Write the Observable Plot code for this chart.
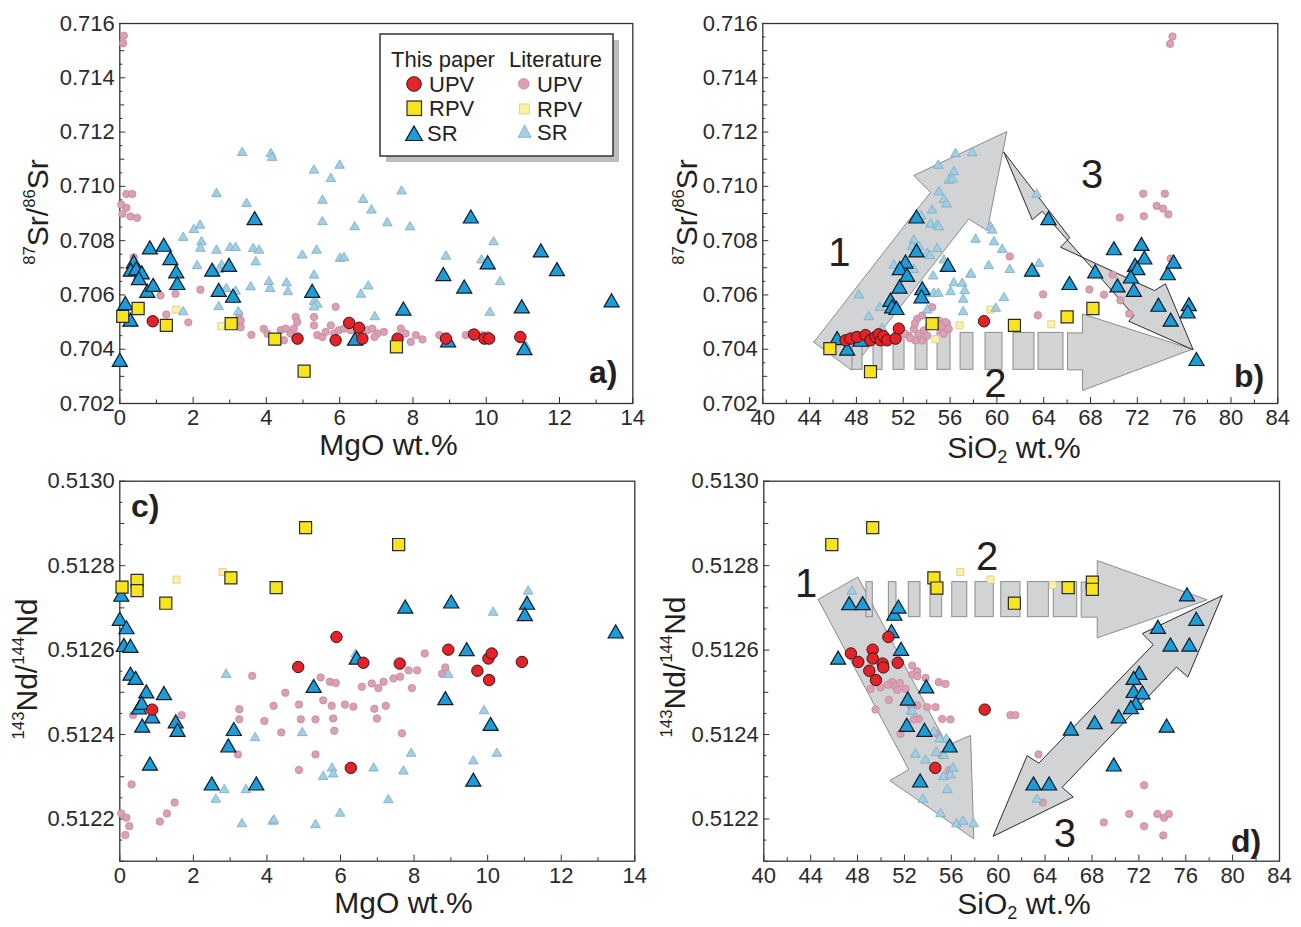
<!DOCTYPE html>
<html>
<head>
<meta charset="utf-8">
<script src="https://cdn.jsdelivr.net/npm/d3@7"></script>
<script src="https://cdn.jsdelivr.net/npm/@observablehq/plot@0.6"></script>
<style>
html,body{margin:0;padding:0;background:#fff;}
#fig{position:relative;width:1301px;height:927px;overflow:hidden;font-family:"Liberation Sans",Arial,Helvetica,sans-serif;color:#231f20;}
.t{position:absolute;white-space:nowrap;line-height:1;}
.sup{font-size:0.56em;position:relative;top:-0.78em;}
.sub{font-size:0.6em;position:relative;top:0.28em;}
</style>
</head>
<body>
<div id="fig"></div>
<script>
// ---------- tick labels ----------
const MGO_TICKS = [0, 2, 4, 6, 8, 10, 12, 14];
const MGO_MINOR = [1, 3, 5, 7, 9, 11, 13];
const SIO2_TICKS = [40, 44, 48, 52, 56, 60, 64, 68, 72, 76, 80, 84];
const SIO2_MINOR = [42, 46, 50, 54, 58, 62, 66, 70, 74, 78, 82];
const SR_TICKS = [0.702, 0.704, 0.706, 0.708, 0.710, 0.712, 0.714, 0.716];
const ND_TICKS = [0.5122, 0.5124, 0.5126, 0.5128, 0.5130];

// ---------- panel a) 87Sr/86Sr vs MgO ----------
const aUPV = [[0.90,0.70503],[4.85,0.70439],[5.89,0.70433],[6.26,0.70497],[6.53,0.70479],[6.62,0.70439],[7.58,0.70439],[8.90,0.70439],[9.67,0.70454],[9.95,0.70439],[10.08,0.70439],[10.93,0.70445]];
const aRPV = [[0.08,0.70521],[0.50,0.70550],[1.27,0.70488],[3.04,0.70494],[4.23,0.70437],[5.03,0.70319],[7.55,0.70409]];
const aSR = [[0,0.70353],[0.15,0.70562],[0.29,0.70501],[0.38,0.70715],[0.30,0.70685],[0.45,0.70690],[0.60,0.70675],[0.52,0.70654],[0.75,0.70607],[0.91,0.70629],[0.82,0.70767],[1.20,0.70777],[1.38,0.70728],[1.54,0.70679],[1.57,0.70636],[2.52,0.70685],[2.70,0.70611],[2.98,0.70703],[3.09,0.70589],[3.68,0.70875],[5.25,0.70607],[6.42,0.70431],[7.74,0.70542],[8.83,0.70669],[8.96,0.70425],[9.40,0.70623],[9.58,0.70881],[10.04,0.70712],[10.97,0.70550],[11.04,0.70396],[11.49,0.70756],[11.93,0.70687],[13.42,0.70572]];
const aLitUPV = [[0.11,0.71555],[0.09,0.71527],[0.18,0.70972],[0.34,0.70972],[0.04,0.70933],[0.18,0.70921],[0.07,0.70899],[0.29,0.70889],[0.47,0.70884],[0.38,0.70739],[1.11,0.70598],[1.52,0.70604],[2.20,0.70619],[1.27,0.70528],[1.87,0.70499],[3.25,0.70530],[3.30,0.70506],[3.30,0.70481],[3.59,0.70453],[3.93,0.70475],[4.03,0.70457],[4.39,0.70470],[4.53,0.70476],[4.66,0.70458],[4.48,0.70433],[4.80,0.70519],[4.84,0.70500],[4.75,0.70476],[5.30,0.70519],[5.30,0.70488],[5.39,0.70452],[5.53,0.70445],[5.62,0.70464],[5.76,0.70488],[5.85,0.70458],[5.89,0.70556],[5.98,0.70470],[6.12,0.70476],[6.30,0.70470],[6.76,0.70470],[6.89,0.70476],[7.03,0.70458],[7.21,0.70464],[6.95,0.70445],[7.67,0.70476],[7.80,0.70458],[7.94,0.70427],[8.08,0.70452],[8.26,0.70436],[8.72,0.70452],[8.85,0.70439],[9.44,0.70452],[9.58,0.70458],[9.90,0.70452],[10.04,0.70452],[10.13,0.70439]];
const aLitRPV = [[1.54,0.70546],[2.77,0.70485]];
const aLitSR = [[3.34,0.71124],[4.12,0.71120],[4.16,0.71106],[5.30,0.71059],[5.76,0.71028],[6.00,0.71077],[2.64,0.70973],[3.46,0.70936],[5.53,0.70948],[5.53,0.70869],[1.73,0.70811],[2.02,0.70840],[2.19,0.70856],[2.23,0.70795],[2.20,0.70771],[2.64,0.70764],[3.01,0.70774],[3.16,0.70774],[3.64,0.70770],[3.80,0.70764],[3.71,0.70721],[4.98,0.70746],[5.37,0.70764],[2.11,0.70707],[2.78,0.70709],[2.71,0.70693],[5.30,0.70672],[4.07,0.70648],[4.10,0.70623],[4.55,0.70644],[4.59,0.70611],[3.57,0.70629],[2.91,0.70623],[3.16,0.70613],[3.23,0.70537],[2.70,0.70556],[1.73,0.70537],[5.30,0.70575],[5.39,0.70565],[5.30,0.70555],[6.01,0.70734],[6.64,0.70951],[6.87,0.70912],[7.69,0.70982],[6.41,0.70850],[7.30,0.70865],[7.92,0.70850],[6.12,0.70737],[8.90,0.70742],[9.87,0.70728],[10.20,0.70795],[10.38,0.70648],[6.78,0.70632],[6.58,0.70602],[6.96,0.70519],[10.10,0.70535],[11.09,0.70409]];

// ---------- panel b) 87Sr/86Sr vs SiO2 ----------
const bUPV = [[47.07,0.70433],[47.49,0.70439],[48.06,0.70445],[48.77,0.70452],[49.20,0.70433],[49.63,0.70445],[49.90,0.70455],[50.06,0.70433],[50.30,0.70448],[50.63,0.70433],[51.34,0.70439],[51.62,0.70476],[58.90,0.70503]];
const bRPV = [[45.73,0.70402],[49.20,0.70317],[54.47,0.70494],[61.50,0.70488],[66.00,0.70519],[68.20,0.70550]];
const bSR = [[46.35,0.70433],[47.21,0.70394],[48.35,0.70427],[53.13,0.70881],[53.13,0.70756],[52.19,0.70715],[51.71,0.70691],[52.33,0.70666],[51.68,0.70623],[50.91,0.70574],[51.05,0.70550],[51.42,0.70544],[53.62,0.70617],[53.56,0.70587],[55.81,0.70703],[64.40,0.70875],[63.00,0.70685],[66.20,0.70636],[68.40,0.70679],[70.00,0.70764],[70.30,0.70627],[72.35,0.70780],[72.60,0.70730],[71.80,0.70703],[72.00,0.70691],[71.45,0.70660],[71.70,0.70611],[73.80,0.70556],[74.60,0.70672],[75.10,0.70715],[74.85,0.70501],[76.40,0.70558],[76.30,0.70531],[77.05,0.70356]];
const bLitUPV = [[75.00,0.71552],[74.80,0.71525],[72.50,0.70973],[74.35,0.70973],[73.65,0.70928],[74.20,0.70918],[74.65,0.70897],[70.50,0.70885],[72.55,0.70890],[69.90,0.70675],[67.90,0.70620],[69.15,0.70601],[63.95,0.70602],[70.55,0.70580],[63.50,0.70525],[71.30,0.70531],[74.85,0.70734],[61.10,0.70742],[53.19,0.70512],[53.62,0.70524],[54.47,0.70555],[55.04,0.70506],[55.75,0.70494],[52.90,0.70475],[52.47,0.70450],[53.33,0.70457],[53.76,0.70469],[54.05,0.70450],[53.62,0.70432],[53.05,0.70432],[51.76,0.70469],[51.48,0.70445],[52.10,0.70458],[55.20,0.70469],[55.46,0.70457],[55.89,0.70475],[54.90,0.70495],[55.30,0.70485],[55.60,0.70500],[52.60,0.70440],[54.20,0.70485],[53.00,0.70495]];
const bLitRPV = [[54.76,0.70437],[56.81,0.70488],[59.45,0.70546],[64.65,0.70492]];
const bLitSR = [[54.99,0.71077],[56.47,0.71120],[57.89,0.71123],[56.32,0.71053],[55.90,0.71022],[56.20,0.71026],[55.04,0.70979],[55.47,0.70951],[55.70,0.70934],[54.47,0.70912],[54.33,0.70860],[54.90,0.70856],[55.04,0.70850],[53.53,0.70890],[52.90,0.70801],[53.33,0.70777],[54.05,0.70752],[54.90,0.70770],[52.76,0.70777],[54.27,0.70744],[55.47,0.70728],[51.20,0.70709],[52.90,0.70693],[54.56,0.70669],[56.32,0.70644],[57.04,0.70642],[57.75,0.70676],[58.18,0.70804],[54.05,0.70605],[54.62,0.70605],[55.00,0.70605],[56.04,0.70611],[57.24,0.70615],[57.12,0.70583],[48.20,0.70599],[49.06,0.70519],[50.00,0.70553],[50.91,0.70587],[50.20,0.70476],[49.43,0.70443],[54.05,0.70544],[57.12,0.70537],[63.40,0.70970],[59.45,0.70850],[59.60,0.70838],[59.75,0.70795],[60.45,0.70767],[63.60,0.70715],[59.30,0.70707],[61.10,0.70693],[57.80,0.70676],[60.60,0.70589],[59.90,0.70550]];
// trend arrows (outline vertices, data units)
const bArrow1 = [[44.36,0.70426],[54.33,0.70978],[52.90,0.71040],[60.85,0.71202],[59.17,0.70837],[57.60,0.70880],[47.55,0.70324]];
const bArrow2Head = [[66.03,0.70460],[67.31,0.70460],[67.31,0.70530],[76.70,0.70400],[67.31,0.70248],[67.31,0.70324],[66.03,0.70324]];
const bArrow2Bars = [[47.66,48.52],[49.46,50.23],[51.17,52.11],[53.05,54.07],[54.93,56.04],[56.90,58.00],[59.03,60.48],[61.42,63.21],[63.56,65.69]];
const bArrow2Y = [0.70324, 0.70460];
const bArrow3 = [[60.59,0.71126],[66.23,0.70811],[65.43,0.70776],[73.46,0.70616],[74.40,0.70641],[76.77,0.70398],[71.27,0.70503],[71.70,0.70524],[63.87,0.70908],[63.02,0.70877]];
const bNums = [[46.55,0.70752,"1"],[59.88,0.70270,"2"],[68.14,0.71040,"3"]];

// ---------- panel c) 143Nd/144Nd vs MgO ----------
const cUPV = [[0.88,0.512459],[4.85,0.51256],[5.89,0.512631],[6.62,0.51257],[7.61,0.512568],[8.93,0.512601],[6.28,0.512321],[9.72,0.512551],[10.02,0.51258],[10.11,0.512592],[10.04,0.512529],[10.93,0.512572]];
const cRPV = [[0.06,0.512749],[0.47,0.512765],[0.47,0.512741],[1.25,0.512711],[3.02,0.512771],[4.25,0.512748],[5.05,0.51289],[7.58,0.51285]];
const cSR = [[0.04,0.512726],[0,0.512669],[0.18,0.512649],[0.11,0.512607],[0.29,0.512605],[0.29,0.512539],[0.43,0.512529],[0.72,0.512497],[0.52,0.512459],[0.60,0.51247],[0.88,0.512438],[0.61,0.512416],[1.20,0.512493],[1.52,0.512426],[1.57,0.512406],[0.82,0.512326],[2.50,0.512279],[3.10,0.512408],[2.95,0.512369],[3.71,0.512279],[5.27,0.51251],[6.44,0.512577],[7.76,0.512698],[9.01,0.51271],[9.43,0.512597],[8.85,0.512481],[10.08,0.51242],[9.61,0.512288],[11.07,0.512707],[11.01,0.51268],[13.48,0.512639]];
const cLitUPV = [[0.04,0.512213],[0.18,0.512203],[0.26,0.512183],[0.15,0.512162],[0.32,0.512282],[0.36,0.512446],[1.68,0.512446],[1.49,0.512239],[1.28,0.512213],[1.09,0.512194],[3.21,0.512353],[3.25,0.51246],[3.25,0.512436],[3.93,0.512432],[3.60,0.512539],[4.18,0.512468],[4.39,0.512405],[4.50,0.512499],[4.87,0.512471],[4.92,0.512436],[4.87,0.512316],[5.32,0.512436],[5.32,0.512353],[5.46,0.512535],[5.53,0.512481],[5.71,0.512525],[5.87,0.512522],[5.76,0.512468],[5.80,0.512438],[5.83,0.512409],[6.12,0.512471],[6.35,0.512466],[6.58,0.512513],[6.85,0.512521],[7.03,0.51251],[7.17,0.512525],[7.44,0.512533],[7.62,0.512537],[7.85,0.512552],[8.08,0.512552],[7.94,0.51251],[6.92,0.512461],[6.99,0.512438],[7.23,0.512468],[8.29,0.512592],[8.76,0.512544],[8.85,0.512559],[7.67,0.512403]];
const cLitRPV = [[1.54,0.512767],[2.80,0.512785]];
const cLitSR = [[2.89,0.512542],[3.68,0.512392],[2.84,0.512269],[2.61,0.512246],[3.43,0.512269],[3.32,0.512188],[4.16,0.512194],[4.19,0.512197],[4.96,0.512404],[5.32,0.512186],[5.77,0.51232],[5.80,0.512306],[5.53,0.5123],[5.99,0.512213],[6.90,0.51232],[7.30,0.512245],[7.71,0.512313],[7.92,0.512355],[8.93,0.512542],[9.90,0.512456],[9.61,0.512337],[10.25,0.512355],[10.15,0.512689],[11.10,0.512739],[6.41,0.51259]];

// ---------- panel d) 143Nd/144Nd vs SiO2 ----------
const dUPV = [[47.43,0.512592],[48.06,0.512572],[49.29,0.512601],[49.29,0.51258],[49.00,0.512551],[49.57,0.512529],[50.14,0.512568],[50.20,0.512559],[50.63,0.512631],[51.43,0.51257],[54.63,0.512321],[58.85,0.512459]];
const dRPV = [[45.80,0.51285],[49.29,0.51289],[54.51,0.512771],[54.77,0.512747],[61.38,0.512711],[65.97,0.512748],[68.03,0.512761],[68.03,0.512744]];
const dSR = [[47.29,0.512706],[48.43,0.512706],[46.34,0.512577],[51.14,0.512681],[51.49,0.512698],[50.90,0.51264],[51.71,0.512598],[52.29,0.51248],[53.86,0.512509],[52.20,0.512418],[53.71,0.512406],[55.86,0.512369],[53.34,0.512286],[76.11,0.512727],[76.90,0.512669],[73.63,0.51265],[74.70,0.512608],[76.31,0.512608],[72.03,0.512541],[71.55,0.512529],[71.55,0.512498],[72.31,0.512495],[71.75,0.51247],[71.32,0.51246],[70.28,0.512438],[68.23,0.512424],[66.20,0.512409],[74.37,0.512416],[69.86,0.512324],[63.01,0.512279],[64.34,0.512279]];
const dLitUPV = [[52.66,0.512563],[53.09,0.51255],[52.66,0.512542],[53.09,0.512538],[53.80,0.512534],[54.93,0.512524],[55.50,0.51252],[50.96,0.512524],[51.60,0.512522],[51.20,0.512515],[50.60,0.512518],[49.96,0.512512],[49.10,0.512508],[52.09,0.512508],[51.38,0.512506],[50.67,0.512482],[49.53,0.512459],[52.52,0.512469],[53.09,0.512469],[53.94,0.512465],[54.65,0.512465],[53.23,0.512437],[52.80,0.512436],[55.22,0.512437],[55.93,0.512436],[51.66,0.512402],[54.79,0.512402],[55.80,0.512315],[55.14,0.512351],[61.04,0.512446],[61.46,0.512446],[63.44,0.512353],[63.80,0.512239],[72.45,0.51228],[71.18,0.512212],[69.01,0.512192],[72.45,0.512183],[73.58,0.512212],[74.14,0.512203],[74.56,0.512212],[74.08,0.512161]];
const dLitRPV = [[56.77,0.512785],[59.35,0.512767],[64.65,0.512754]];
const dLitSR = [[47.51,0.512739],[52.57,0.512455],[54.51,0.512406],[52.94,0.512353],[54.71,0.512357],[53.80,0.512339],[55.34,0.5123],[55.91,0.512304],[56.14,0.51232],[55.66,0.512269],[53.57,0.512246],[55.09,0.512212],[56.43,0.512188],[57.00,0.512194],[57.91,0.512188],[55.57,0.512389],[63.30,0.512246],[52.66,0.512455],[55.00,0.512389],[55.36,0.51235]];
const dArrow1 = [[44.64,0.51272],[48.02,0.512773],[55.65,0.512374],[57.64,0.512398],[57.92,0.512153],[50.75,0.512291],[52.37,0.512317]];
const dArrow2Head = [[67.08,0.512761],[68.45,0.512761],[68.45,0.512812],[77.83,0.512719],[68.45,0.512629],[68.45,0.512678],[67.08,0.512678]];
const dArrow2Bars = [[48.76,49.30],[50.67,51.32],[52.37,53.37],[54.22,55.22],[56.08,57.36],[58.06,59.62],[60.26,61.90],[62.53,64.32],[64.74,66.74]];
const dArrow2Y = [0.512678, 0.512761];
const dArrow3 = [[79.11,0.512729],[72.29,0.512639],[73.23,0.512613],[63.46,0.512332],[62.47,0.51235],[59.57,0.512159],[66.40,0.512252],[65.46,0.512275],[75.21,0.51256],[76.18,0.512536]];
const dNums = [[43.62,0.512757,"1"],[59.06,0.51282,"2"],[65.68,0.512165,"3"]];

// ---------- styles ----------
const FONT = "'Liberation Sans', Arial, Helvetica, sans-serif";
const INK = "#231f20";
const ST = {
  UPV:  {symbol: "circle",   r: 5.7, fill: "#e4222a", stroke: "#3a1414", strokeWidth: 1},
  RPV:  {symbol: "square",   r: 6.8, fill: "#f8e41c", stroke: "#2a2a2a", strokeWidth: 1.2},
  SR:   {symbol: "triangle", r: 5.6, fill: "#1c9dd8", stroke: "#0e1a28", strokeWidth: 1.2},
  lUPV: {symbol: "circle",   r: 3.7, fill: "#dca0b4", stroke: "#c2879b", strokeWidth: 0.8},
  lRPV: {symbol: "square",   r: 4.0, fill: "#fcf2a6", stroke: "#d6cb82", strokeWidth: 0.8},
  lSR:  {symbol: "triangle", r: 3.6, fill: "#a3cfe4", stroke: "#76abc7", strokeWidth: 0.8}
};
const ARROW_FILL = "#d1d3d4";
const ARROW_GRAY = "#8a8c8e";

const fig = document.getElementById("fig");
const dots = (data, s) => Plot.dot(data, {x: d => d[0], y: d => d[1], ...s});
const poly = (pts, stroke) => Plot.line([...pts, pts[0]], {
  x: d => d[0], y: d => d[1], fill: ARROW_FILL, stroke, strokeWidth: 1,
  strokeLinejoin: "miter", strokeMiterlimit: 10
});

function srMinor(kind) {
  const out = [];
  for (let i = 0; i <= 28; i++) {
    if (i % 4 === 0) continue;
    if ((kind === "mid") === (i % 2 === 0)) out.push(+(0.702 + i * 0.0005).toFixed(5));
  }
  return out;
}
function ndMinor(kind) {
  const out = [];
  for (let i = 0; i <= 18; i++) {
    if ((i - 2) % 4 === 0) continue;
    if ((kind === "mid") === (i % 2 === 0)) out.push(+(0.5121 + i * 0.00005).toFixed(6));
  }
  return out;
}

function panel(p) {
  const marks = [];
  (p.arrows || []).forEach(a => marks.push(poly(a.pts, a.stroke)));
  if (p.bars) {
    marks.push(poly(p.barHead, ARROW_GRAY));
    marks.push(Plot.rect(p.bars, {
      x1: d => d[0], x2: d => d[1], y1: () => p.barY[0], y2: () => p.barY[1],
      fill: ARROW_FILL, stroke: ARROW_GRAY, strokeWidth: 1
    }));
  }
  (p.arrowsTop || []).forEach(a => marks.push(poly(a.pts, a.stroke)));
  if (p.nums) marks.push(Plot.text(p.nums, {
    x: d => d[0], y: d => d[1], text: d => d[2], fontSize: 40, fill: INK,
    textAnchor: "middle", lineAnchor: "middle"
  }));
  marks.push(
    Plot.frame({stroke: "#333", strokeWidth: 1.3}),
    Plot.axisX({ticks: p.xTicks, tickSize: 0, tickPadding: 6, tickFormat: d => String(d), fontSize: 22, color: "#2a2a2a", label: null}),
    Plot.axisX({ticks: p.xTicks, tickSize: -6, fill: "none", stroke: "#333", label: null}),
    Plot.axisX({ticks: p.xMinor, tickSize: -3.5, fill: "none", stroke: "#333", label: null}),
    Plot.axisY({ticks: p.yTicks, tickSize: 0, tickPadding: 5, tickFormat: p.yFmt, fontSize: 22, color: "#2a2a2a", label: null}),
    Plot.axisY({ticks: p.yTicks, tickSize: -6, fill: "none", stroke: "#333", label: null}),
    Plot.axisY({ticks: p.yMid, tickSize: -5, fill: "none", stroke: "#333", label: null}),
    Plot.axisY({ticks: p.yMin, tickSize: -3, fill: "none", stroke: "#333", label: null}),
    dots(p.lUPV, ST.lUPV), dots(p.lRPV, ST.lRPV), dots(p.lSR, ST.lSR),
    dots(p.SR, ST.SR), dots(p.UPV, ST.UPV), dots(p.RPV, ST.RPV)
  );
  const svg = Plot.plot({
    width: p.width, height: p.height,
    marginLeft: p.ml, marginRight: p.mr, marginTop: p.mt, marginBottom: p.mb,
    x: {domain: p.xDom}, y: {domain: p.yDom},
    style: {fontFamily: FONT, overflow: "visible", background: "transparent", color: INK},
    marks
  });
  const w = document.createElement("div");
  Object.assign(w.style, {position: "absolute", left: p.left + "px", top: p.top + "px"});
  w.appendChild(svg);
  fig.appendChild(w);
}

const fSr = d3.format(".3f"), fNd = d3.format(".4f");

panel({left: 0, top: 0, width: 650, height: 465, ml: 119.3, mr: 17.7, mt: 23, mb: 62,
  xDom: [0, 14], yDom: [0.702, 0.716], xTicks: MGO_TICKS, xMinor: MGO_MINOR,
  yTicks: SR_TICKS, yMid: srMinor("mid"), yMin: srMinor("min"), yFmt: fSr,
  UPV: aUPV, RPV: aRPV, SR: aSR, lUPV: aLitUPV, lRPV: aLitRPV, lSR: aLitSR});

panel({left: 650, top: 0, width: 651, height: 465, ml: 112.3, mr: 23.7, mt: 23, mb: 62,
  xDom: [40, 84], yDom: [0.702, 0.716], xTicks: SIO2_TICKS, xMinor: SIO2_MINOR,
  yTicks: SR_TICKS, yMid: srMinor("mid"), yMin: srMinor("min"), yFmt: fSr,
  arrows: [{pts: bArrow1, stroke: ARROW_GRAY}], bars: bArrow2Bars, barHead: bArrow2Head, barY: bArrow2Y,
  arrowsTop: [{pts: bArrow3, stroke: "#2b2b2b"}], nums: bNums,
  UPV: bUPV, RPV: bRPV, SR: bSR, lUPV: bLitUPV, lRPV: bLitRPV, lSR: bLitSR});

panel({left: 0, top: 465, width: 650, height: 462, ml: 119.3, mr: 15.7, mt: 15.7, mb: 66.3,
  xDom: [0, 14], yDom: [0.5121, 0.5130], xTicks: MGO_TICKS, xMinor: MGO_MINOR,
  yTicks: ND_TICKS, yMid: ndMinor("mid"), yMin: ndMinor("min"), yFmt: fNd,
  UPV: cUPV, RPV: cRPV, SR: cSR, lUPV: cLitUPV, lRPV: cLitRPV, lSR: cLitSR});

panel({left: 650, top: 465, width: 651, height: 462, ml: 113.3, mr: 22, mt: 15.7, mb: 66.3,
  xDom: [40, 84], yDom: [0.5121, 0.5130], xTicks: SIO2_TICKS, xMinor: SIO2_MINOR,
  yTicks: ND_TICKS, yMid: ndMinor("mid"), yMin: ndMinor("min"), yFmt: fNd,
  arrows: [{pts: dArrow1, stroke: ARROW_GRAY}], bars: dArrow2Bars, barHead: dArrow2Head, barY: dArrow2Y,
  arrowsTop: [{pts: dArrow3, stroke: "#2b2b2b"}], nums: dNums,
  UPV: dUPV, RPV: dRPV, SR: dSR, lUPV: dLitUPV, lRPV: dLitRPV, lSR: dLitSR});

// ---------- axis titles & panel letters ----------
function addText(html, css) {
  const d = document.createElement("div");
  d.className = "t";
  d.innerHTML = html;
  Object.assign(d.style, css);
  fig.appendChild(d);
}
const SR_LABEL = '<span class="sup">87</span>Sr/<span class="sup">86</span>Sr';
const ND_LABEL = '<span class="sup">143</span>Nd/<span class="sup">144</span>Nd';
const MGO_LABEL = 'MgO wt.%';
const SIO2_LABEL = 'SiO<span class="sub">2</span> wt.%';
const yl = (html, cx, cy) => addText(html, {left: cx + "px", top: cy + "px", fontSize: "30px", transform: "translate(-50%,-50%) rotate(-90deg)"});
const xl = (html, cx, base) => addText(html, {left: cx + "px", top: (base - 25.4) + "px", fontSize: "30px", transform: "translateX(-50%)"});
yl(SR_LABEL, 37.6, 212); yl(SR_LABEL, 686.5, 212);
yl(ND_LABEL, 26.5, 669); yl(ND_LABEL, 675, 667);
xl(MGO_LABEL, 388.5, 455); xl(SIO2_LABEL, 1014, 458);
xl(MGO_LABEL, 403.5, 913); xl(SIO2_LABEL, 1024, 914);
const letter = (s, left, base) => addText(s, {left: left + "px", top: (base - 27.1) + "px", fontSize: "32px", fontWeight: "bold"});
letter("a)", 589, 383); letter("b)", 1234, 387); letter("c)", 131, 517); letter("d)", 1231, 852);

// ---------- legend (panel a) ----------
const LEG_HEAD = ["This paper", "Literature"];
const LEG_ROWS = ["UPV", "RPV", "SR"];
const lg = d3.select(fig).append("svg")
  .attr("width", 1301).attr("height", 927)
  .style("position", "absolute").style("left", 0).style("top", 0)
  .style("pointer-events", "none").style("font-family", FONT);
lg.append("rect").attr("x", 386).attr("y", 40).attr("width", 233).attr("height", 122).attr("fill", "#bcbec0");
lg.append("rect").attr("x", 380).attr("y", 34).attr("width", 233).attr("height", 122).attr("fill", "#fff").attr("stroke", "#333").attr("stroke-width", 1.5);
const lt = (s, x, y) => lg.append("text").attr("x", x).attr("y", y).attr("font-size", 22).attr("fill", INK).text(s);
lt(LEG_HEAD[0], 391, 67); lt(LEG_HEAD[1], 509, 67);
// this paper symbols
lg.append("circle").attr("cx", 414).attr("cy", 84).attr("r", 7.3).attr("fill", ST.UPV.fill).attr("stroke", ST.UPV.stroke).attr("stroke-width", 1);
lg.append("rect").attr("x", 407).attr("y", 101).attr("width", 14.5).attr("height", 14.5).attr("fill", ST.RPV.fill).attr("stroke", ST.RPV.stroke).attr("stroke-width", 1.2);
lg.append("path").attr("d", "M414,126 L422.3,140.5 L405.7,140.5 Z").attr("fill", ST.SR.fill).attr("stroke", ST.SR.stroke).attr("stroke-width", 1.2);
lt(LEG_ROWS[0], 429, 92); lt(LEG_ROWS[1], 429, 116); lt(LEG_ROWS[2], 427, 140.5);
// literature symbols
lg.append("circle").attr("cx", 523.8).attr("cy", 83.8).attr("r", 5.3).attr("fill", ST.lUPV.fill).attr("stroke", ST.lUPV.stroke).attr("stroke-width", 0.8);
lg.append("rect").attr("x", 519.3).attr("y", 104).attr("width", 10).attr("height", 10).attr("fill", ST.lRPV.fill).attr("stroke", ST.lRPV.stroke).attr("stroke-width", 0.8);
lg.append("path").attr("d", "M524.6,125 L531,137.3 L518.2,137.3 Z").attr("fill", ST.lSR.fill).attr("stroke", ST.lSR.stroke).attr("stroke-width", 0.8);
lt(LEG_ROWS[0], 537, 92); lt(LEG_ROWS[1], 537, 116.5); lt(LEG_ROWS[2], 537, 139.5);
</script>
</body>
</html>
